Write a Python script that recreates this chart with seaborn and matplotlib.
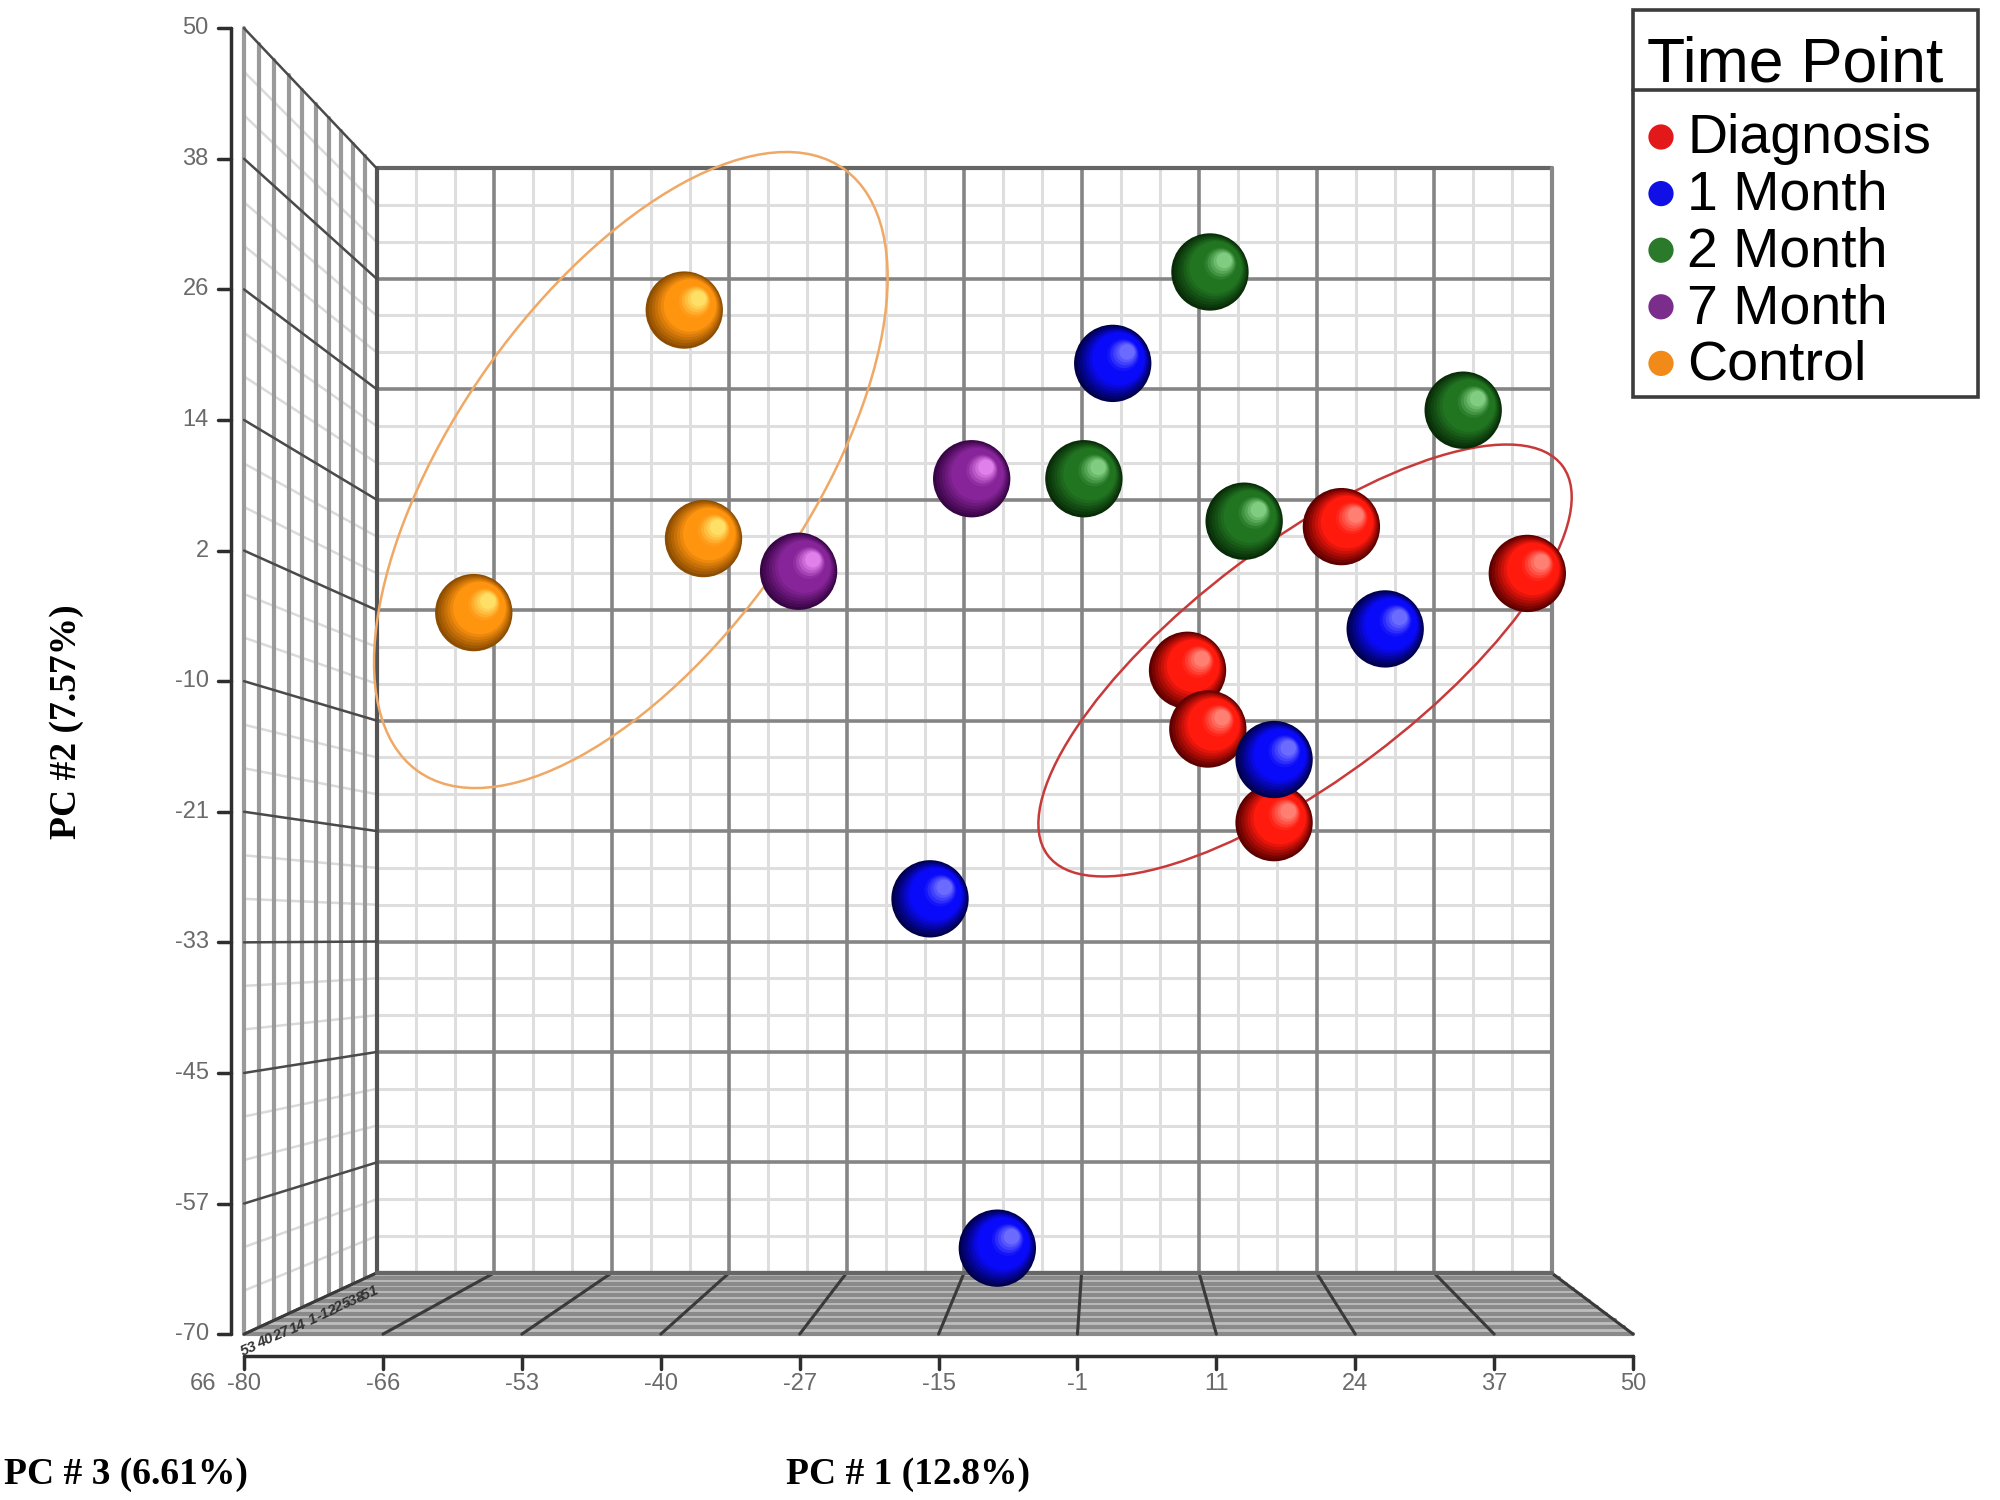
import matplotlib
matplotlib.use("Agg")
import matplotlib.pyplot as plt
import numpy as np
import pandas as pd
import seaborn as sns
from matplotlib.patches import Ellipse, Polygon, Rectangle

# --- data: PC1 / PC2 scores read against the front frame ---
groups = ["Diagnosis", "1 Month", "2 Month", "7 Month", "Control"]

diag_pc1 = [22.7, 40.1, 8.3, 10.2, 16.4]
diag_pc2 = [4.2, -0.1, -9.0, -14.4, -23.0]
m1_pc1 = [1.3, 26.8, 16.4, -15.8, -9.5]
m1_pc2 = [19.2, -5.2, -17.2, -30.0, -62.1]
m2_pc1 = [10.4, -1.4, 13.6, 34.1]
m2_pc2 = [27.6, 8.6, 4.7, 14.9]
m7_pc1 = [-11.9, -28.1]
m7_pc2 = [8.6, 0.1]
ctrl_pc1 = [-38.8, -37.0, -58.5]
ctrl_pc2 = [24.1, 3.1, -3.7]

# group ellipses (centre, full width / height, angle)
ell_groups = ["Control", "Diagnosis"]
ell_cx = [-43.8, 19.3]
ell_cy = [9.4, -8.1]
ell_w = [68.2, 60.0]
ell_h = [32.8, 21.6]
ell_angle = [54, 36.5]
ell_colors = ["#f0a865", "#c83a3a"]

x_tick_labels = ["-80", "-66", "-53", "-40", "-27", "-15", "-1", "11", "24", "37", "50"]
y_tick_labels = ["-70", "-57", "-45", "-33", "-21", "-10", "2", "14", "26", "38", "50"]
pc3_tick_labels = ["66", "53", "40", "27", "14", "1", "-12", "-25", "-38", "-51"]

legend_colors = ["#e3181a", "#1010e6", "#2b7a2b", "#7b2d8b", "#f28a1a"]
shades = {
    "Diagnosis": ((0.36, 0.0, 0.0), (1.0, 0.1, 0.05), (1.0, 0.5, 0.45)),
    "1 Month": ((0.0, 0.0, 0.3), (0.04, 0.04, 0.98), (0.42, 0.42, 1.0)),
    "2 Month": ((0.03, 0.17, 0.03), (0.13, 0.46, 0.13), (0.5, 0.8, 0.5)),
    "7 Month": ((0.22, 0.02, 0.27), (0.53, 0.14, 0.6), (0.88, 0.5, 0.92)),
    "Control": ((0.55, 0.3, 0.0), (1.0, 0.58, 0.06), (1.0, 0.88, 0.4)),
}

df = pd.concat([
    pd.DataFrame({"pc1": diag_pc1, "pc2": diag_pc2, "group": "Diagnosis"}),
    pd.DataFrame({"pc1": m1_pc1, "pc2": m1_pc2, "group": "1 Month"}),
    pd.DataFrame({"pc1": m2_pc1, "pc2": m2_pc2, "group": "2 Month"}),
    pd.DataFrame({"pc1": m7_pc1, "pc2": m7_pc2, "group": "7 Month"}),
    pd.DataFrame({"pc1": ctrl_pc1, "pc2": ctrl_pc2, "group": "Control"}),
], ignore_index=True)

# --- pseudo 3D box ---
X0, X1, Y0, Y1 = -80, 50, -70, 50
VP = (0.5, -33.5)
K_DEPTH = 1 / 0.846 - 1


def project(x, y, d):
    s = 1.0 / (1.0 + K_DEPTH * d)
    return VP[0] + s * (x - VP[0]), VP[1] + s * (y - VP[1])


def blend(c1, c2, u):
    c1, c2 = np.array(c1), np.array(c2)
    return tuple(c1 + (c2 - c1) * u)


def shade_color(group, t):
    dark, mid, light = shades[group]
    if t < 0.4:
        return blend(dark, mid, t / 0.4)
    if t < 0.7:
        return mid
    return blend(mid, light, (t - 0.7) / 0.3)


sns.set_theme(style="white")
plt.rcParams["font.family"] = ["Liberation Sans", "DejaVu Sans"]

fig = plt.figure(figsize=(20, 15), dpi=100)
ax = fig.add_axes([0, 0, 1, 1])
ax.set_xlim(-102.84, 84.34)
ax.set_ylim(-85.24, 52.59)
ax.axis("off")

x_major = np.linspace(X0, X1, 11)
y_major = np.linspace(Y0, Y1, 11)
x_minor = [v for v in np.linspace(X0, X1, 31) if not np.isclose(v, x_major).any()]
y_minor = [v for v in np.linspace(Y0, Y1, 31) if not np.isclose(v, y_major).any()]

bx0, by1 = project(X0, Y1, 1)
bx1, by0 = project(X1, Y0, 1)

MINOR = "#dedede"
MAJOR = "#858585"

# back wall
for xf in x_minor:
    xb = project(xf, 0, 1)[0]
    ax.plot([xb, xb], [by0, by1], color=MINOR, lw=2.2, zorder=2)
for yf in y_minor:
    yb = project(0, yf, 1)[1]
    ax.plot([bx0, bx1], [yb, yb], color=MINOR, lw=2.2, zorder=2)
for xf in x_major[1:-1]:
    xb = project(xf, 0, 1)[0]
    ax.plot([xb, xb], [by0, by1], color=MAJOR, lw=2.6, zorder=3)
for yf in y_major[1:-1]:
    yb = project(0, yf, 1)[1]
    ax.plot([bx0, bx1], [yb, yb], color=MAJOR, lw=2.6, zorder=3)
ax.plot([bx0, bx1], [by1, by1], color="#666666", lw=3, zorder=4)
ax.plot([bx1, bx1], [by0, by1], color="#888888", lw=3, zorder=4)
ax.plot([bx0, bx0], [by0, by1], color="#555555", lw=3, zorder=4)

# left wall
depths = np.linspace(0, 1, 11)
for yf in y_minor:
    yb = project(X0, yf, 1)[1]
    ax.plot([X0, bx0], [yf, yb], color="#dadada", lw=1.8, zorder=2)
for d in depths[:-1]:
    xw, ytop = project(X0, Y1, d)
    ybot = project(X0, Y0, d)[1]
    ax.plot([xw, xw], [ybot, ytop], color="#9a9a9a", lw=3, zorder=3)
for yf in y_major:
    yb = project(X0, yf, 1)[1]
    ax.plot([X0, bx0], [yf, yb], color="#4a4a4a", lw=1.8, zorder=4)

# floor
floor = Polygon([(X0, Y0), (X1, Y0), project(X1, Y0, 1), project(X0, Y0, 1)],
                closed=True, facecolor="#bdbdbd", edgecolor="none", zorder=1)
ax.add_patch(floor)
for d in np.linspace(0, 1, 11):
    xa, ya = project(X0, Y0, d)
    xb_, yb_ = project(X1, Y0, d)
    ax.plot([xa, xb_], [ya, yb_], color="#8a8a8a", lw=3, zorder=2)
for xf in x_major:
    xb_, yb_ = project(xf, Y0, 1)
    ax.plot([xf, xb_], [Y0, yb_], color="#3a3a3a", lw=2.2, zorder=4)
ax.plot([bx0, bx1], [by0, by0], color="#666666", lw=3, zorder=4)

# axes with ticks
AXX, AXY = -81.2, -72.0
TICK_KW = dict(fontsize=17, color="#6a6a6a", family=["Liberation Sans", "DejaVu Sans"])
ax.plot([AXX, AXX], [Y0, Y1], color="#2e2e2e", lw=2.5, zorder=4)
for yf, lab in zip(y_major, y_tick_labels):
    ax.plot([AXX - 1.2, AXX], [yf, yf], color="#2e2e2e", lw=2.5, zorder=4)
    ax.text(AXX - 2.1, yf, lab, ha="right", va="center", **TICK_KW)
ax.plot([X0, X1], [AXY, AXY], color="#2e2e2e", lw=2.5, zorder=4)
for xf, lab in zip(x_major, x_tick_labels):
    ax.plot([xf, xf], [AXY, AXY - 1.2], color="#2e2e2e", lw=2.5, zorder=4)
    ax.text(xf, AXY - 1.6, lab, ha="center", va="top", **TICK_KW)

# squeezed PC3 labels along the left floor edge
ax.text(X0 - 2.6, AXY - 1.6, pc3_tick_labels[0], ha="right", va="top", **TICK_KW)
for d, lab in zip(np.linspace(0.05, 0.95, len(pc3_tick_labels) - 1), pc3_tick_labels[1:]):
    xe, ye = project(X0, Y0, d)
    ax.text(xe - 0.3, ye - 1.7, lab, fontsize=11, color="#333333", rotation=24,
            ha="center", va="center", style="italic", fontweight="bold", zorder=5)

# ellipses
for g, cx, cy, w, h, ang, c in zip(ell_groups, ell_cx, ell_cy, ell_w, ell_h, ell_angle, ell_colors):
    ax.add_patch(Ellipse((cx, cy), w, h, angle=ang, facecolor="none",
                         edgecolor=c, lw=1.8, zorder=5))

# shaded spheres, one point at a time so overlaps stack correctly
R = 3.5
N_LAYERS = 16
SIZE = 3100
z = 6
for _, row in df.iterrows():
    pt = pd.DataFrame({"pc1": [row.pc1], "pc2": [row.pc2]})
    for i in range(N_LAYERS):
        t = i / (N_LAYERS - 1)
        f = 1 - 0.8 * t
        sns.scatterplot(x=pt.pc1 + 0.38 * R * t, y=pt.pc2 + 0.30 * R * t,
                        s=SIZE * f * f, color=shade_color(row.group, t),
                        edgecolor="none", linewidth=0, legend=False, ax=ax, zorder=z)
        z += 0.001

# overlay in pixel space for legend and titles
ax2 = fig.add_axes([0, 0, 1, 1])
ax2.set_xlim(0, 2000)
ax2.set_ylim(1500, 0)
ax2.axis("off")
ax2.patch.set_alpha(0)

ax2.add_patch(Rectangle((1633, 10), 345, 387, facecolor="white", edgecolor="#3c3c3c", lw=2.6))
ax2.plot([1633, 1978], [90, 90], color="#3c3c3c", lw=2.6)
ax2.text(1647, 82, "Time Point", fontsize=45, va="baseline", color="black")
for i, (g, c) in enumerate(zip(groups, legend_colors)):
    ax2.scatter([1661], [137 + 56.6 * i], s=330, color=c, edgecolor="none")
    ax2.text(1687, 153 + 56.75 * i, g, fontsize=40, va="baseline", color="black")

TITLE_KW = dict(fontsize=27, fontweight="bold", family=["Liberation Serif", "DejaVu Serif"], color="black")
ax2.text(4, 1484, "PC # 3 (6.61%)", va="baseline", ha="left", **TITLE_KW)
ax2.text(786, 1484, "PC # 1 (12.8%)", va="baseline", ha="left", **TITLE_KW)
ax2.text(66, 722, "PC #2 (7.57%)", rotation=90, va="center", ha="center", **TITLE_KW)

fig.savefig("out.png", dpi=100)
